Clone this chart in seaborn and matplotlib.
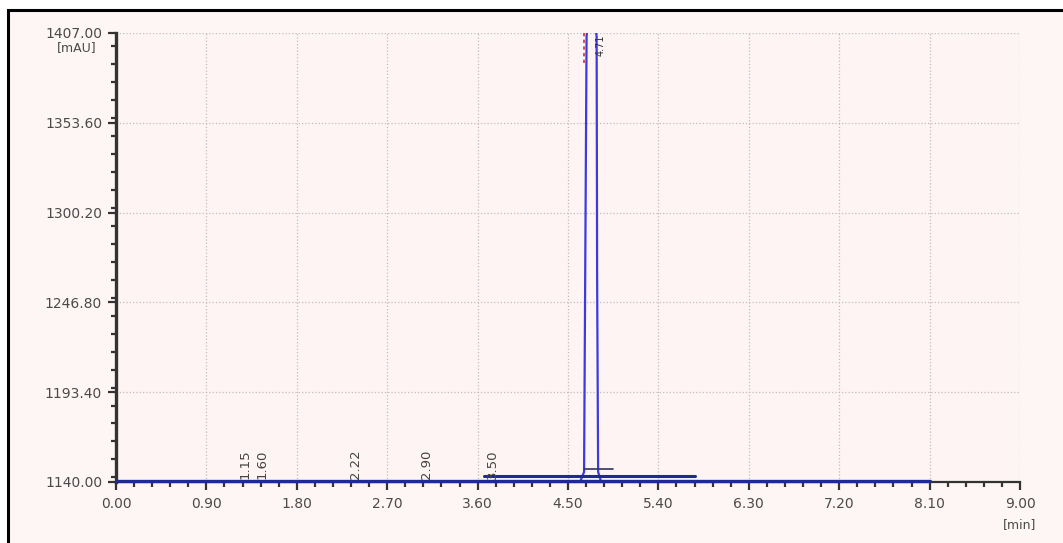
import numpy as np
import pandas as pd
import matplotlib.pyplot as plt
import seaborn as sns
from matplotlib.patches import Rectangle
from matplotlib.ticker import MultipleLocator, FormatStrFormatter

# signal trace (time in min, response in mAU)
time_min = [0.00, 4.62, 4.66, 4.685, 4.695, 4.77, 4.785, 4.79, 4.80, 4.83, 8.10]
signal_mau = [1140.0, 1140.0, 1146.0, 1405.0, 1412.0, 1412.0, 1405.0, 1262.0, 1146.0, 1140.0, 1140.0]

# retention time labels along the baseline
peak_labels = ['1.15', '1.60', '2.22', '2.90', '3.50']
label_pos = [1.28, 1.45, 2.38, 3.09, 3.75]
main_peak = '4.71'

# integration baseline and peak bracket
baseline_t = [3.66, 5.76]
baseline_y = [1143.5, 1143.5]
bracket_t = [4.66, 4.95]
bracket_y = [1148.0, 1148.0]

y_ticks = [1140.0, 1193.4, 1246.8, 1300.2, 1353.6, 1407.0]
x_ticks = [0.00, 0.90, 1.80, 2.70, 3.60, 4.50, 5.40, 6.30, 7.20, 8.10, 9.00]

sns.set_style('white')
plt.rcParams['font.family'] = ['DejaVu Sans']

fig = plt.figure(figsize=(10.63, 5.43), dpi=100)
fig.patch.set_facecolor('white')
# outer frame of the report
fig.add_artist(Rectangle((8 / 1063, -0.01), 1.05, 1 - 10 / 543 + 0.01, transform=fig.transFigure,
                         facecolor='#fdf6f5', edgecolor='black', lw=2.2, zorder=0))

ax = fig.add_axes([116 / 1063, 1 - 482 / 543, (1020 - 116) / 1063, (482 - 33) / 543])
ax.set_facecolor('#fdf4f3')

df = pd.DataFrame({'t': time_min, 'mAU': signal_mau})
sns.lineplot(data=df, x='t', y='mAU', ax=ax, color='#3a3ae0', lw=1.6, estimator=None, sort=False)
ax.plot(baseline_t, baseline_y, color='#1f2a90', lw=2.2)
ax.plot(bracket_t, bracket_y, color='#333366', lw=1.2)
ax.plot([0, 8.10], [1140.6, 1140.6], color='#1f2a90', lw=2.4, zorder=4, clip_on=False)
# retention marker at the peak apex
ax.plot([4.655, 4.655], [1407, 1388], color='#d03050', lw=1.2, ls=(0, (2, 2)))

for lab, xp in zip(peak_labels, label_pos):
    ax.text(xp, 1141.5, lab, rotation=90, fontsize=9.5, color='#444444', ha='center', va='bottom')
ax.text(4.82, 1406, main_peak, rotation=90, fontsize=7, color='#333333', ha='center', va='top')

ax.set_xlim(0, 9.0)
ax.set_ylim(1140.0, 1407.0)
ax.set_xticks(x_ticks)
ax.set_yticks(y_ticks)
ax.xaxis.set_minor_locator(MultipleLocator(0.18))
ax.yaxis.set_minor_locator(MultipleLocator(10.68))
ax.xaxis.set_major_formatter(FormatStrFormatter('%.2f'))
ax.yaxis.set_major_formatter(FormatStrFormatter('%.2f'))
ax.tick_params(axis='both', which='both', bottom=True, left=True)
ax.tick_params(axis='both', which='major', direction='out', length=6, width=1.6,
               labelsize=10, labelcolor='#4a4a4a', color='#333333')
ax.tick_params(axis='both', which='minor', direction='out', length=3.5, width=1.6, color='#333333')
ax.tick_params(axis='x', pad=5)
ax.tick_params(axis='y', pad=4)

ax.grid(True, which='major', ls=':', color='#c4bcbc', lw=0.9)
for s in ['top', 'right']:
    ax.spines[s].set_visible(False)
ax.spines['left'].set_color('#333333')
ax.spines['left'].set_linewidth(2.4)
ax.spines['bottom'].set_color('#333333')
ax.spines['bottom'].set_linewidth(1.6)
ax.set_xlabel('')
ax.set_ylabel('')

ax.text(-0.022, 0.982, '[mAU]', transform=ax.transAxes, ha='right', va='top', fontsize=9, color='#4a4a4a')
ax.text(1.0, -0.08, '[min]', transform=ax.transAxes, ha='center', va='top', fontsize=9, color='#4a4a4a')

fig.savefig('out.png', dpi=100)
